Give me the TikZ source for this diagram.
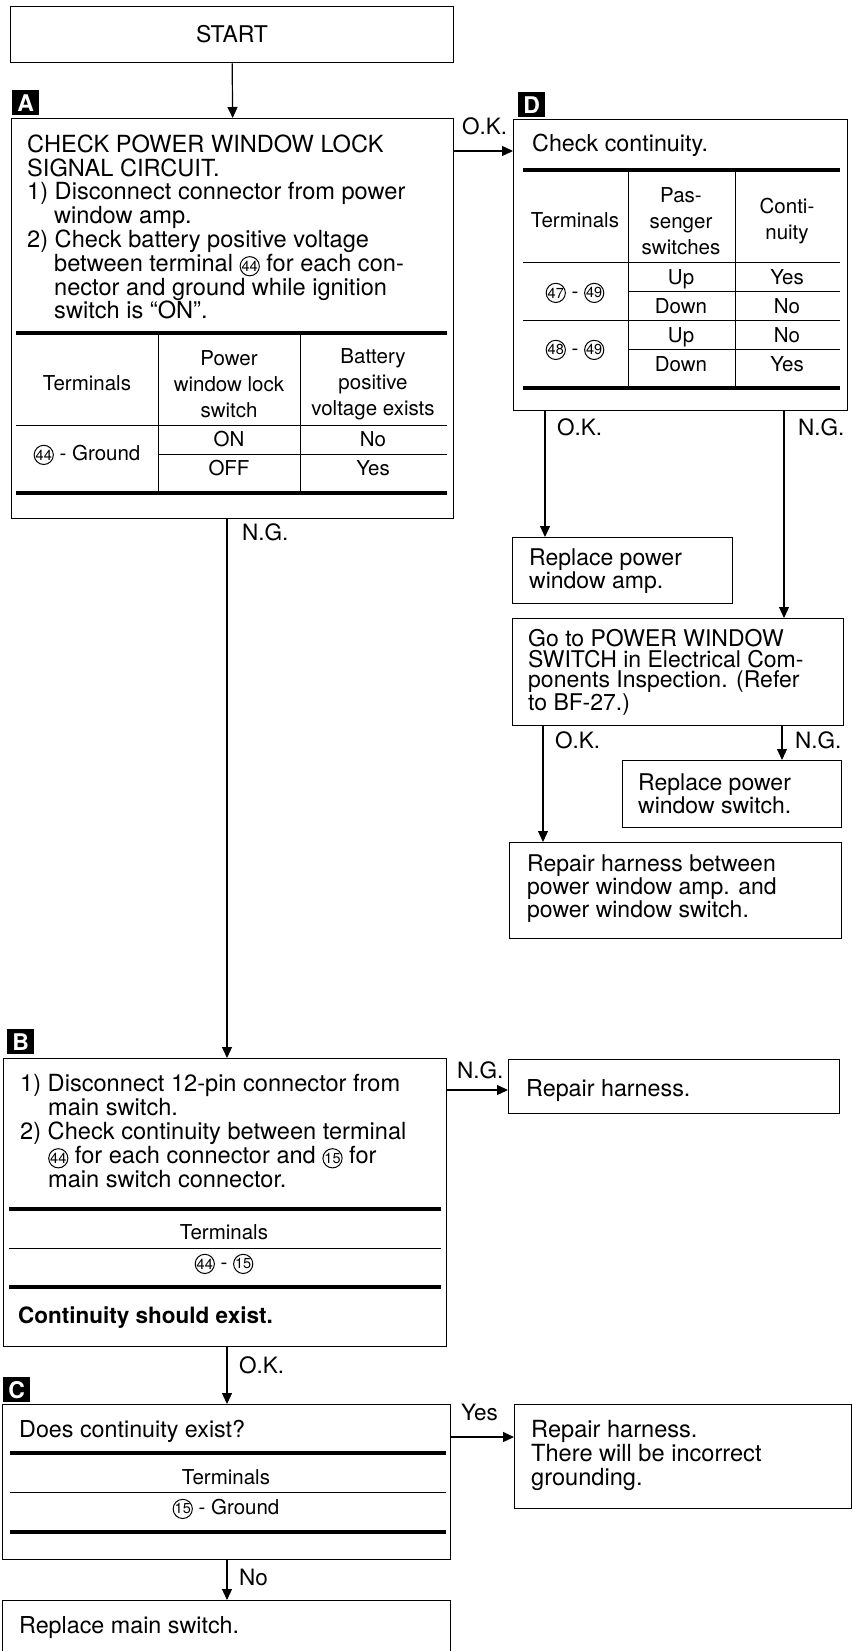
\documentclass[tikz,border=0pt]{standalone}
\usepackage{fontspec}
\setmainfont{TeX Gyre Heros}
\usetikzlibrary{arrows.meta}
\newsavebox\cnFF
\newsavebox\cnFS
\newsavebox\cnFE
\newsavebox\cnFN
\newsavebox\cnOF
\newcommand{\mkcn}[2]{\sbox#1{\begin{pgfpicture}\pgfsetlinewidth{1pt}\pgfpathcircle{\pgfpointorigin}{9.6pt}\pgfusepath{stroke}\pgftext{\fontsize{14.5}{14.5}\selectfont #2}\pgfsetbaseline{-5.1pt}\end{pgfpicture}}}
\tikzset{
  box/.style={draw, line width=1.3pt, inner sep=0pt, anchor=north west},
  txt/.style={inner sep=0pt, align=left, anchor=north west, font=\fontsize{23.6}{23.8}\selectfont},
  txs/.style={inner sep=0pt, align=left, anchor=north west, font=\fontsize{23}{20.3}\selectfont},
  one/.style={inner sep=0pt, anchor=base west, font=\fontsize{23.3}{23}\selectfont},
  lbl/.style={inner sep=0pt, anchor=base west, font=\fontsize{22.5}{23}\selectfont},
  tbl/.style={inner sep=0pt, align=center, anchor=base, font=\fontsize{20.5}{26}\selectfont},
  tblm/.style={inner sep=0pt, align=center, anchor=center, font=\fontsize{20.5}{26}\selectfont},
  tag/.style={fill=black, text=white, inner sep=0pt, minimum width=27pt, minimum height=25pt, anchor=north west, font=\bfseries\fontsize{23}{23}\selectfont},
  arr/.style={line width=1.2pt, -{Triangle[length=11pt,width=10pt]}},
  thickrule/.style={line width=3.2pt},
  thinrule/.style={line width=1pt},
}
\begin{document}
\mkcn{\cnFF}{44}\mkcn{\cnFS}{47}\mkcn{\cnFE}{48}\mkcn{\cnFN}{49}\mkcn{\cnOF}{15}%
\begin{tikzpicture}[x=1pt,y=-1pt]
\clip (0,0) rectangle (853,1651);
\fill[white] (0,0) rectangle (853,1651);

% ---------- START ----------
\node[box, minimum width=443pt, minimum height=56pt] (start) at (10,6) {};
\node[inner sep=0pt, font=\fontsize{23}{23}\selectfont] (starttxt) at (232,34) {START};

% ---------- A ----------
\node[tag] (tagA) at (12,90) {A};
\node[box, minimum width=442pt, minimum height=400pt] (A) at (11,118) {};
\node[txt] (Atxt) at (27,134.5) {CHECK POWER WINDOW LOCK\\SIGNAL CIRCUIT.\\1) Disconnect connector from power\\\hspace*{27pt}window amp.\\2) Check battery positive voltage\\\hspace*{27pt}between terminal \usebox\cnFF\ for each con-\\\hspace*{27pt}nector and ground while ignition\\\hspace*{27pt}switch is “ON”.};
\draw[thickrule] (16,333) -- (447,333);
\draw[thinrule] (16,425) -- (447,425);
\draw[thinrule] (158,454) -- (447,454);
\draw[thickrule] (16,493) -- (447,493);
\draw[thinrule] (158,333) -- (158,493);
\draw[thinrule] (300,333) -- (300,493);
\node[tbl] (Ah1) at (87,390) {Terminals};
\node[tblm] (Ah2) at (229,384) {Power\\window lock\\switch};
\node[tblm] (Ah3) at (373,384) {Battery\\positive\\voltage exists};
\node[tbl] (Ar1) at (87,460) {\usebox\cnFF\ - Ground};
\node[tbl] (Ar2) at (229,446) {ON};
\node[tbl] (Ar3) at (229,475) {OFF};
\node[tbl] (Ar4) at (373,446) {No};
\node[tbl] (Ar5) at (373,475) {Yes};

% ---------- D ----------
\node[tag] (tagD) at (518,92) {D};
\node[box, minimum width=334pt, minimum height=291pt] (D) at (513,119) {};
\node[one] (Dtxt) at (532,151) {Check continuity.};
\draw[thickrule] (523,170) -- (840,170);
\draw[thinrule] (523,262) -- (840,262);
\draw[thinrule] (628,291) -- (840,291);
\draw[thinrule] (523,320) -- (840,320);
\draw[thinrule] (628,349) -- (840,349);
\draw[thickrule] (523,388) -- (840,388);
\draw[thinrule] (628,170) -- (628,388);
\draw[thinrule] (735,170) -- (735,388);
\node[tbl] (Dh1) at (575,227) {Terminals};
\node[tblm] (Dh2) at (681,221) {Pas-\\senger\\switches};
\node[tblm] (Dh3) at (787,221) {Conti-\\nuity};
\node[tbl] (Dr1) at (575,298) {\usebox\cnFS\ - \usebox\cnFN};
\node[tbl] (Dr2) at (575,355) {\usebox\cnFE\ - \usebox\cnFN};
\node[tbl] (Dc1) at (681,284) {Up};
\node[tbl] (Dc2) at (681,313) {Down};
\node[tbl] (Dc3) at (681,342) {Up};
\node[tbl] (Dc4) at (681,371) {Down};
\node[tbl] (Dd1) at (787,284) {Yes};
\node[tbl] (Dd2) at (787,313) {No};
\node[tbl] (Dd3) at (787,342) {No};
\node[tbl] (Dd4) at (787,371) {Yes};

% ---------- right column ----------
\node[box, minimum width=220pt, minimum height=66pt] (RPWA) at (512,537) {};
\node[txs] (RPWAtxt) at (529,548.5) {Replace power\\window amp.};
\node[box, minimum width=331pt, minimum height=107pt] (GoTo) at (512,618) {};
\node[txs] (GoTotxt) at (528,629.5) {Go to POWER WINDOW\\SWITCH in Electrical Com-\\ponents Inspection. (Refer\\to BF-27.)};
\node[box, minimum width=219pt, minimum height=67pt] (RPWS) at (622,760) {};
\node[txs] (RPWStxt) at (638,773.5) {Replace power\\window switch.};
\node[box, minimum width=332pt, minimum height=96pt] (RH1) at (509,842) {};
\node[txs] (RH1txt) at (527,854.5) {Repair harness between\\power window amp. and\\power window switch.};

% ---------- B ----------
\node[tag] (tagB) at (7,1029) {B};
\node[box, minimum width=443pt, minimum height=288pt] (B) at (3,1058) {};
\node[txt] (Btxt) at (20,1074.5) {1) Disconnect 12-pin connector from\\\hspace*{28pt}main switch.\\2) Check continuity between terminal\\\hspace*{28pt}\usebox\cnFF\ for each connector and \usebox\cnOF\ for\\\hspace*{28pt}main switch connector.};
\draw[thickrule] (9,1209) -- (441,1209);
\draw[thinrule] (9,1248) -- (441,1248);
\draw[thickrule] (9,1287) -- (441,1287);
\node[tbl] (Bh1) at (224,1239) {Terminals};
\node[tbl] (Br1) at (224,1269) {\usebox\cnFF\ - \usebox\cnOF};
\node[inner sep=0pt, anchor=base west, font=\bfseries\fontsize{22.5}{23}\selectfont] (Bbold) at (18,1323) {Continuity should exist.};
\node[box, minimum width=331pt, minimum height=54pt] (RH2) at (508,1059) {};
\node[one] (RH2txt) at (526,1096) {Repair harness.};

% ---------- C ----------
\node[tag] (tagC) at (3,1377) {C};
\node[box, minimum width=448pt, minimum height=155pt] (C) at (2,1404) {};
\node[one] (Ctxt) at (19,1437) {Does continuity exist?};
\draw[thickrule] (10,1453) -- (446,1453);
\draw[thinrule] (10,1492) -- (446,1492);
\draw[thickrule] (10,1532) -- (446,1532);
\node[tbl] (Ch1) at (226,1484) {Terminals};
\node[tbl] (Cr1) at (226,1514) {\usebox\cnOF\ - Ground};
\node[box, minimum width=337pt, minimum height=104pt] (RH3) at (514,1404) {};
\node[txt] (RH3txt) at (531,1420.5) {Repair harness.\\There will be incorrect\\grounding.};
\node[box, minimum width=448pt, minimum height=70pt] (RMS) at (2,1600) {};
\node[one] (RMStxt) at (19,1633) {Replace main switch.};

% ---------- connectors ----------
\coordinate (yAD) at (0,151);
\coordinate (xDok) at (545,0);
\coordinate (xDng) at (784,0);
\coordinate (xGok) at (543,0);
\coordinate (xGng) at (782,0);
\coordinate (xMain) at (227,0);
\coordinate (yBR) at (0,1090);
\coordinate (yCR) at (0,1437);

\draw[arr] (start.south) -- (A.north);
\draw[arr] (A.east |- yAD) -- (D.west |- yAD);
\draw[arr] (D.south -| xDok) -- (RPWA.north -| xDok);
\draw[arr] (D.south -| xDng) -- (GoTo.north -| xDng);
\draw[arr] (GoTo.south -| xGok) -- (RH1.north -| xGok);
\draw[arr] (GoTo.south -| xGng) -- (RPWS.north -| xGng);
\draw[arr] (A.south -| xMain) -- (B.north -| xMain);
\draw[arr] (B.east |- yBR) -- (RH2.west |- yBR);
\draw[arr] (B.south -| xMain) -- (C.north -| xMain);
\draw[arr] (C.east |- yCR) -- (RH3.west |- yCR);
\draw[arr] (C.south -| xMain) -- (RMS.north -| xMain);

% ---------- labels ----------
\node[lbl] (lAD) at (462,135) {O.K.};
\node[lbl] (lDok) at (557,435) {O.K.};
\node[lbl] (lDng) at (798,435) {N.G.};
\node[lbl] (lGok) at (555,748) {O.K.};
\node[lbl] (lGng) at (795,748) {N.G.};
\node[lbl] (lAng) at (242,540) {N.G.};
\node[lbl] (lBng) at (457,1078) {N.G.};
\node[lbl] (lBok) at (239,1373) {O.K.};
\node[lbl] (lCyes) at (461,1420) {Yes};
\node[lbl] (lCno) at (239,1585) {No};
\end{tikzpicture}
\end{document}
